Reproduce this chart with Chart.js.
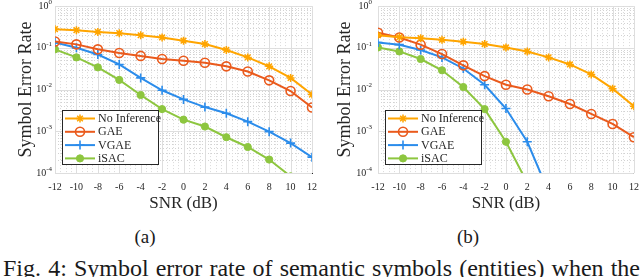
<!DOCTYPE html>
<html lang="en">
<head>
  <meta charset="UTF-8">
  <title>Symbol error rate vs SNR</title>
  <script src="https://cdn.jsdelivr.net/npm/chart.js"></script>
  <style>
    body {
      margin: 0;
      width: 640px;
      height: 277px;
      overflow: hidden;
      background: #fff;
      position: relative;
      font-family: 'Liberation Serif', serif;
      color: #1a1a1a;
    }
    .panel {
      position: absolute;
      top: 0;
    }
    .sub {
      position: absolute;
      top: 225px;
      width: 60px;
      margin-left: -30px;
      text-align: center;
      font-size: 19px;
      line-height: 24px;
    }
    .caption {
      position: absolute;
      left: 3px;
      top: 256px;
      width: 637px;
      font-size: 24px;
      line-height: 24px;
      text-align: justify;
      text-align-last: justify;
    }
  </style>
</head>
<body>
  <div class="panel" style="left:0"><canvas id="chartA" width="320" height="216"></canvas></div>
  <div class="panel" style="left:320px"><canvas id="chartB" width="320" height="216"></canvas></div>
  <div class="sub" style="left:145px">(a)</div>
  <div class="sub" style="left:468px">(b)</div>
  <div class="caption">Fig. 4: Symbol error rate of semantic symbols (entities) when the</div>
  <script>
    const snr = [-12, -10, -8, -6, -4, -2, 0, 2, 4, 6, 8, 10, 12];
    const seriesNames = ['No Inference', 'GAE', 'VGAE', 'iSAC'];
    const yDecades = [1, 0.1, 0.01, 0.001, 0.0001];

    // (a)
    const noInfA = [0.28, 0.265, 0.24, 0.225, 0.20, 0.177, 0.148, 0.123, 0.089, 0.059, 0.036, 0.019, 0.0076];
    const gaeA   = [0.142, 0.121, 0.092, 0.075, 0.064, 0.054, 0.049, 0.044, 0.036, 0.027, 0.0166, 0.0092, 0.0037];
    const vgaeA  = [0.134, 0.10, 0.069, 0.040, 0.019, 0.0096, 0.0058, 0.0038, 0.0027, 0.0017, 0.00098, 0.00052, 0.00024];
    const isacA  = [0.092, 0.059, 0.034, 0.017, 0.0074, 0.0034, 0.0019, 0.0013, 0.00072, 0.00042, 0.00021, 0.000083, null];

    // (b)
    const noInfB = [0.20, 0.18, 0.17, 0.156, 0.14, 0.123, 0.102, 0.082, 0.059, 0.040, 0.023, 0.0105, 0.004];
    const gaeB   = [0.23, 0.177, 0.119, 0.071, 0.038, 0.021, 0.013, 0.010, 0.0069, 0.0045, 0.0026, 0.0015, 0.00072];
    const vgaeB  = [0.134, 0.119, 0.089, 0.059, 0.032, 0.013, 0.0035, 0.00056, 0.000035, null, null, null, null];
    const isacB  = [0.102, 0.082, 0.054, 0.029, 0.0115, 0.0034, 0.00056, 0.000058, null, null, null, null, null];

    const colors = ['#FFA500', '#EA5A1C', '#2B8CEB', '#8DC63F'];
    const axisColor = '#262626';
    const serif = "'Liberation Serif', serif";

    function styleFor(i) {
      const c = colors[i];
      const s = [
        { pointStyle: 'star', pointRadius: 4, pointBorderWidth: 1.5, pointBackgroundColor: c },
        { pointStyle: 'circle', pointRadius: 4.5, pointBorderWidth: 1.6, pointBackgroundColor: 'rgba(255,255,255,0)' },
        { pointStyle: 'cross', pointRadius: 4.5, pointBorderWidth: 1.6, pointBackgroundColor: c },
        { pointStyle: 'circle', pointRadius: 3.6, pointBorderWidth: 1, pointBackgroundColor: c }
      ][i];
      return Object.assign({ borderColor: c, pointBorderColor: c, borderWidth: 2, tension: 0 }, s);
    }

    // grid: solid major, dotted minor (drawn through the chart's scales)
    const gridPlugin = {
      id: 'matGrid',
      beforeDatasetsDraw(chart) {
        const { ctx, chartArea: a, scales: { x, y } } = chart;
        ctx.save();
        ctx.lineWidth = 1;
        for (let k = 0; k >= -4; k--) {
          for (let d = 1; d <= 9; d++) {
            const v = d * Math.pow(10, k);
            if (v > 1.0001) continue;
            const py = Math.round(y.getPixelForValue(v)) + 0.5;
            ctx.strokeStyle = d === 1 ? '#dedede' : '#d2d2d2';
            ctx.setLineDash(d === 1 ? [] : [1, 2]);
            ctx.beginPath(); ctx.moveTo(a.left, py); ctx.lineTo(a.right, py); ctx.stroke();
          }
        }
        for (let v = -12; v <= 12; v += 0.5) {
          const px = Math.round(x.getPixelForValue(v)) + 0.5;
          const major = v % 2 === 0;
          ctx.strokeStyle = major ? '#dedede' : '#dadada';
          ctx.setLineDash(major ? [] : [1, 2]);
          ctx.beginPath(); ctx.moveTo(px, a.top); ctx.lineTo(px, a.bottom); ctx.stroke();
        }
        ctx.restore();
      },
      afterDraw(chart) {
        const { ctx, scales: { y } } = chart;
        const right = y.right - chart.options.yLabelPad;
        ctx.save();
        ctx.fillStyle = axisColor;
        ctx.textBaseline = 'middle';
        yDecades.forEach(v => {
          const py = y.getPixelForValue(v);
          const exp = String(Math.round(Math.log10(v)));
          ctx.font = '7px ' + serif;
          const ew = ctx.measureText(exp).width;
          ctx.textAlign = 'right';
          ctx.fillText(exp, right, py - 4);
          ctx.font = '10px ' + serif;
          ctx.fillText('10', right - ew, py);
        });
        ctx.restore();
      }
    };

    const legendPlugin = {
      id: 'boxLegend',
      afterDraw(chart) {
        const { ctx, chartArea: a } = chart;
        const left = a.left + 7, w = 96, h = 54;
        const top = a.bottom - 9 - h;
        ctx.save();
        ctx.fillStyle = '#fff';
        ctx.fillRect(left, top, w, h);
        ctx.strokeStyle = axisColor;
        ctx.lineWidth = 1;
        ctx.strokeRect(Math.round(left) + 0.5, Math.round(top) + 0.5, w, h);
        chart.data.datasets.forEach((ds, i) => {
          const cy = top + 8.5 + i * 13.3;
          ctx.strokeStyle = ds.borderColor;
          ctx.lineWidth = 2;
          ctx.beginPath(); ctx.moveTo(left + 3, cy); ctx.lineTo(left + 33, cy); ctx.stroke();
          ctx.lineWidth = ds.pointBorderWidth;
          ctx.fillStyle = ds.pointBackgroundColor;
          Chart.helpers.drawPoint(ctx, { pointStyle: ds.pointStyle, radius: ds.pointRadius, borderWidth: ds.pointBorderWidth }, left + 18, cy);
          ctx.fillStyle = axisColor;
          ctx.font = '12px ' + serif;
          ctx.textAlign = 'left';
          ctx.textBaseline = 'middle';
          ctx.fillText(ds.label, left + 36, cy + 0.5);
        });
        ctx.restore();
      }
    };

    function makeChart(id, series, yWidth, padRight, titlePad, yLabelPad) {
      return new Chart(document.getElementById(id), {
        type: 'line',
        data: {
          datasets: series.map((vals, i) => Object.assign({
            label: seriesNames[i],
            data: snr.map((s, j) => ({ x: s, y: vals[j] }))
          }, styleFor(i)))
        },
        options: {
          responsive: false,
          animation: false,
          yLabelPad: yLabelPad,
          layout: { padding: { left: 0, right: padRight, top: 5, bottom: 0 } },
          plugins: { legend: { display: false }, tooltip: { enabled: false } },
          scales: {
            x: {
              type: 'linear',
              min: -12,
              max: 12,
              afterBuildTicks: s => { s.ticks = snr.map(v => ({ value: v })); },
              afterFit: s => { s.height = 43; s.paddingLeft = 0; s.paddingRight = 0; },
              grid: { display: false, drawTicks: false },
              border: { display: true, color: axisColor, width: 1 },
              ticks: {
                autoSkip: false,
                maxRotation: 0,
                padding: 8,
                color: axisColor,
                font: { family: serif, size: 10 },
                callback: v => String(v)
              },
              title: {
                display: true,
                text: 'SNR (dB)',
                color: axisColor,
                font: { family: serif, size: 17 },
                padding: { top: 0, bottom: 2 }
              }
            },
            y: {
              type: 'logarithmic',
              min: 0.0001,
              max: 1,
              afterBuildTicks: s => { s.ticks = yDecades.map(v => ({ value: v })); },
              afterFit: s => { s.width = yWidth; s.paddingTop = 0; s.paddingBottom = 0; },
              grid: { display: false, drawTicks: false },
              border: { display: true, color: axisColor, width: 1 },
              ticks: { display: false },
              title: {
                display: true,
                text: 'Symbol Error Rate',
                color: axisColor,
                font: { family: serif, size: 18 },
                padding: { top: titlePad, bottom: 0 }
              }
            }
          }
        },
        plugins: [gridPlugin, legendPlugin]
      });
    }

    makeChart('chartA', [noInfA, gaeA, vgaeA, isacA], 55, 8, 15.5, 3);
    makeChart('chartB', [noInfB, gaeB, vgaeB, isacB], 58, 6, 14, 6);
  </script>
</body>
</html>
